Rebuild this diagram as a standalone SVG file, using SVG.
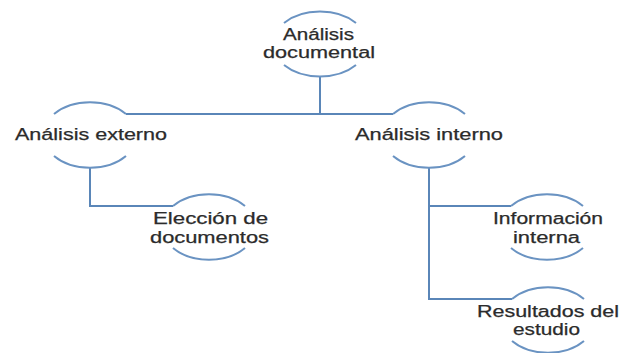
<svg xmlns="http://www.w3.org/2000/svg" width="623" height="353" viewBox="0 0 623 353">
<style>
.arc{fill:none;stroke:#6a93c2;stroke-width:2}
.con{fill:none;stroke:#5a86b8;stroke-width:2}
text{font-family:"Liberation Sans",Arial,sans-serif;font-size:16px;fill:#2b2b2b;text-anchor:middle;stroke:#2b2b2b;stroke-width:0.25}
</style>
<rect width="623" height="353" fill="#ffffff"/>
<g id="connectors">
<path class="con" d="M320 76V114"/>
<path class="con" d="M126 114H393"/>
<path class="con" d="M90 167V206H173"/>
<path class="con" d="M429 167V299H512"/>
<path class="con" d="M429 206H511"/>
</g>
<g id="n-documental">
<path class="arc" d="M284 23A47 32 0 0 1 356 23"/>
<path class="arc" d="M284 65A47 32 0 0 0 356 65"/>
<text x="318.5" y="40" textLength="71" lengthAdjust="spacingAndGlyphs">Análisis</text>
<text x="319" y="57.5" textLength="112" lengthAdjust="spacingAndGlyphs">documental</text>
</g>
<g id="n-externo">
<path class="arc" d="M54 114A47 33 0 0 1 126 114"/>
<path class="arc" d="M54 156A47 33 0 0 0 126 156"/>
<text x="91" y="140" textLength="152" lengthAdjust="spacingAndGlyphs">Análisis externo</text>
</g>
<g id="n-interno">
<path class="arc" d="M393 114A47 33 0 0 1 465 114"/>
<path class="arc" d="M393 156A47 33 0 0 0 465 156"/>
<text x="429" y="140" textLength="148" lengthAdjust="spacingAndGlyphs">Análisis interno</text>
</g>
<g id="n-eleccion">
<path class="arc" d="M173 206A47 33 0 0 1 245 206"/>
<path class="arc" d="M173 248A47 33 0 0 0 245 248"/>
<text x="210.5" y="224" textLength="115" lengthAdjust="spacingAndGlyphs">Elección de</text>
<text x="209.5" y="243" textLength="119" lengthAdjust="spacingAndGlyphs">documentos</text>
</g>
<g id="n-informacion">
<path class="arc" d="M511 206A47 33 0 0 1 583 206"/>
<path class="arc" d="M511 248A47 33 0 0 0 583 248"/>
<text x="548" y="224" textLength="110" lengthAdjust="spacingAndGlyphs">Información</text>
<text x="546.5" y="243" textLength="67" lengthAdjust="spacingAndGlyphs">interna</text>
</g>
<g id="n-resultados">
<path class="arc" d="M512 299A47 33 0 0 1 584 299"/>
<path class="arc" d="M512 341A47 33 0 0 0 584 341"/>
<text x="548" y="317" textLength="142" lengthAdjust="spacingAndGlyphs">Resultados del</text>
<text x="546.5" y="335" textLength="67" lengthAdjust="spacingAndGlyphs">estudio</text>
</g>
</svg>
